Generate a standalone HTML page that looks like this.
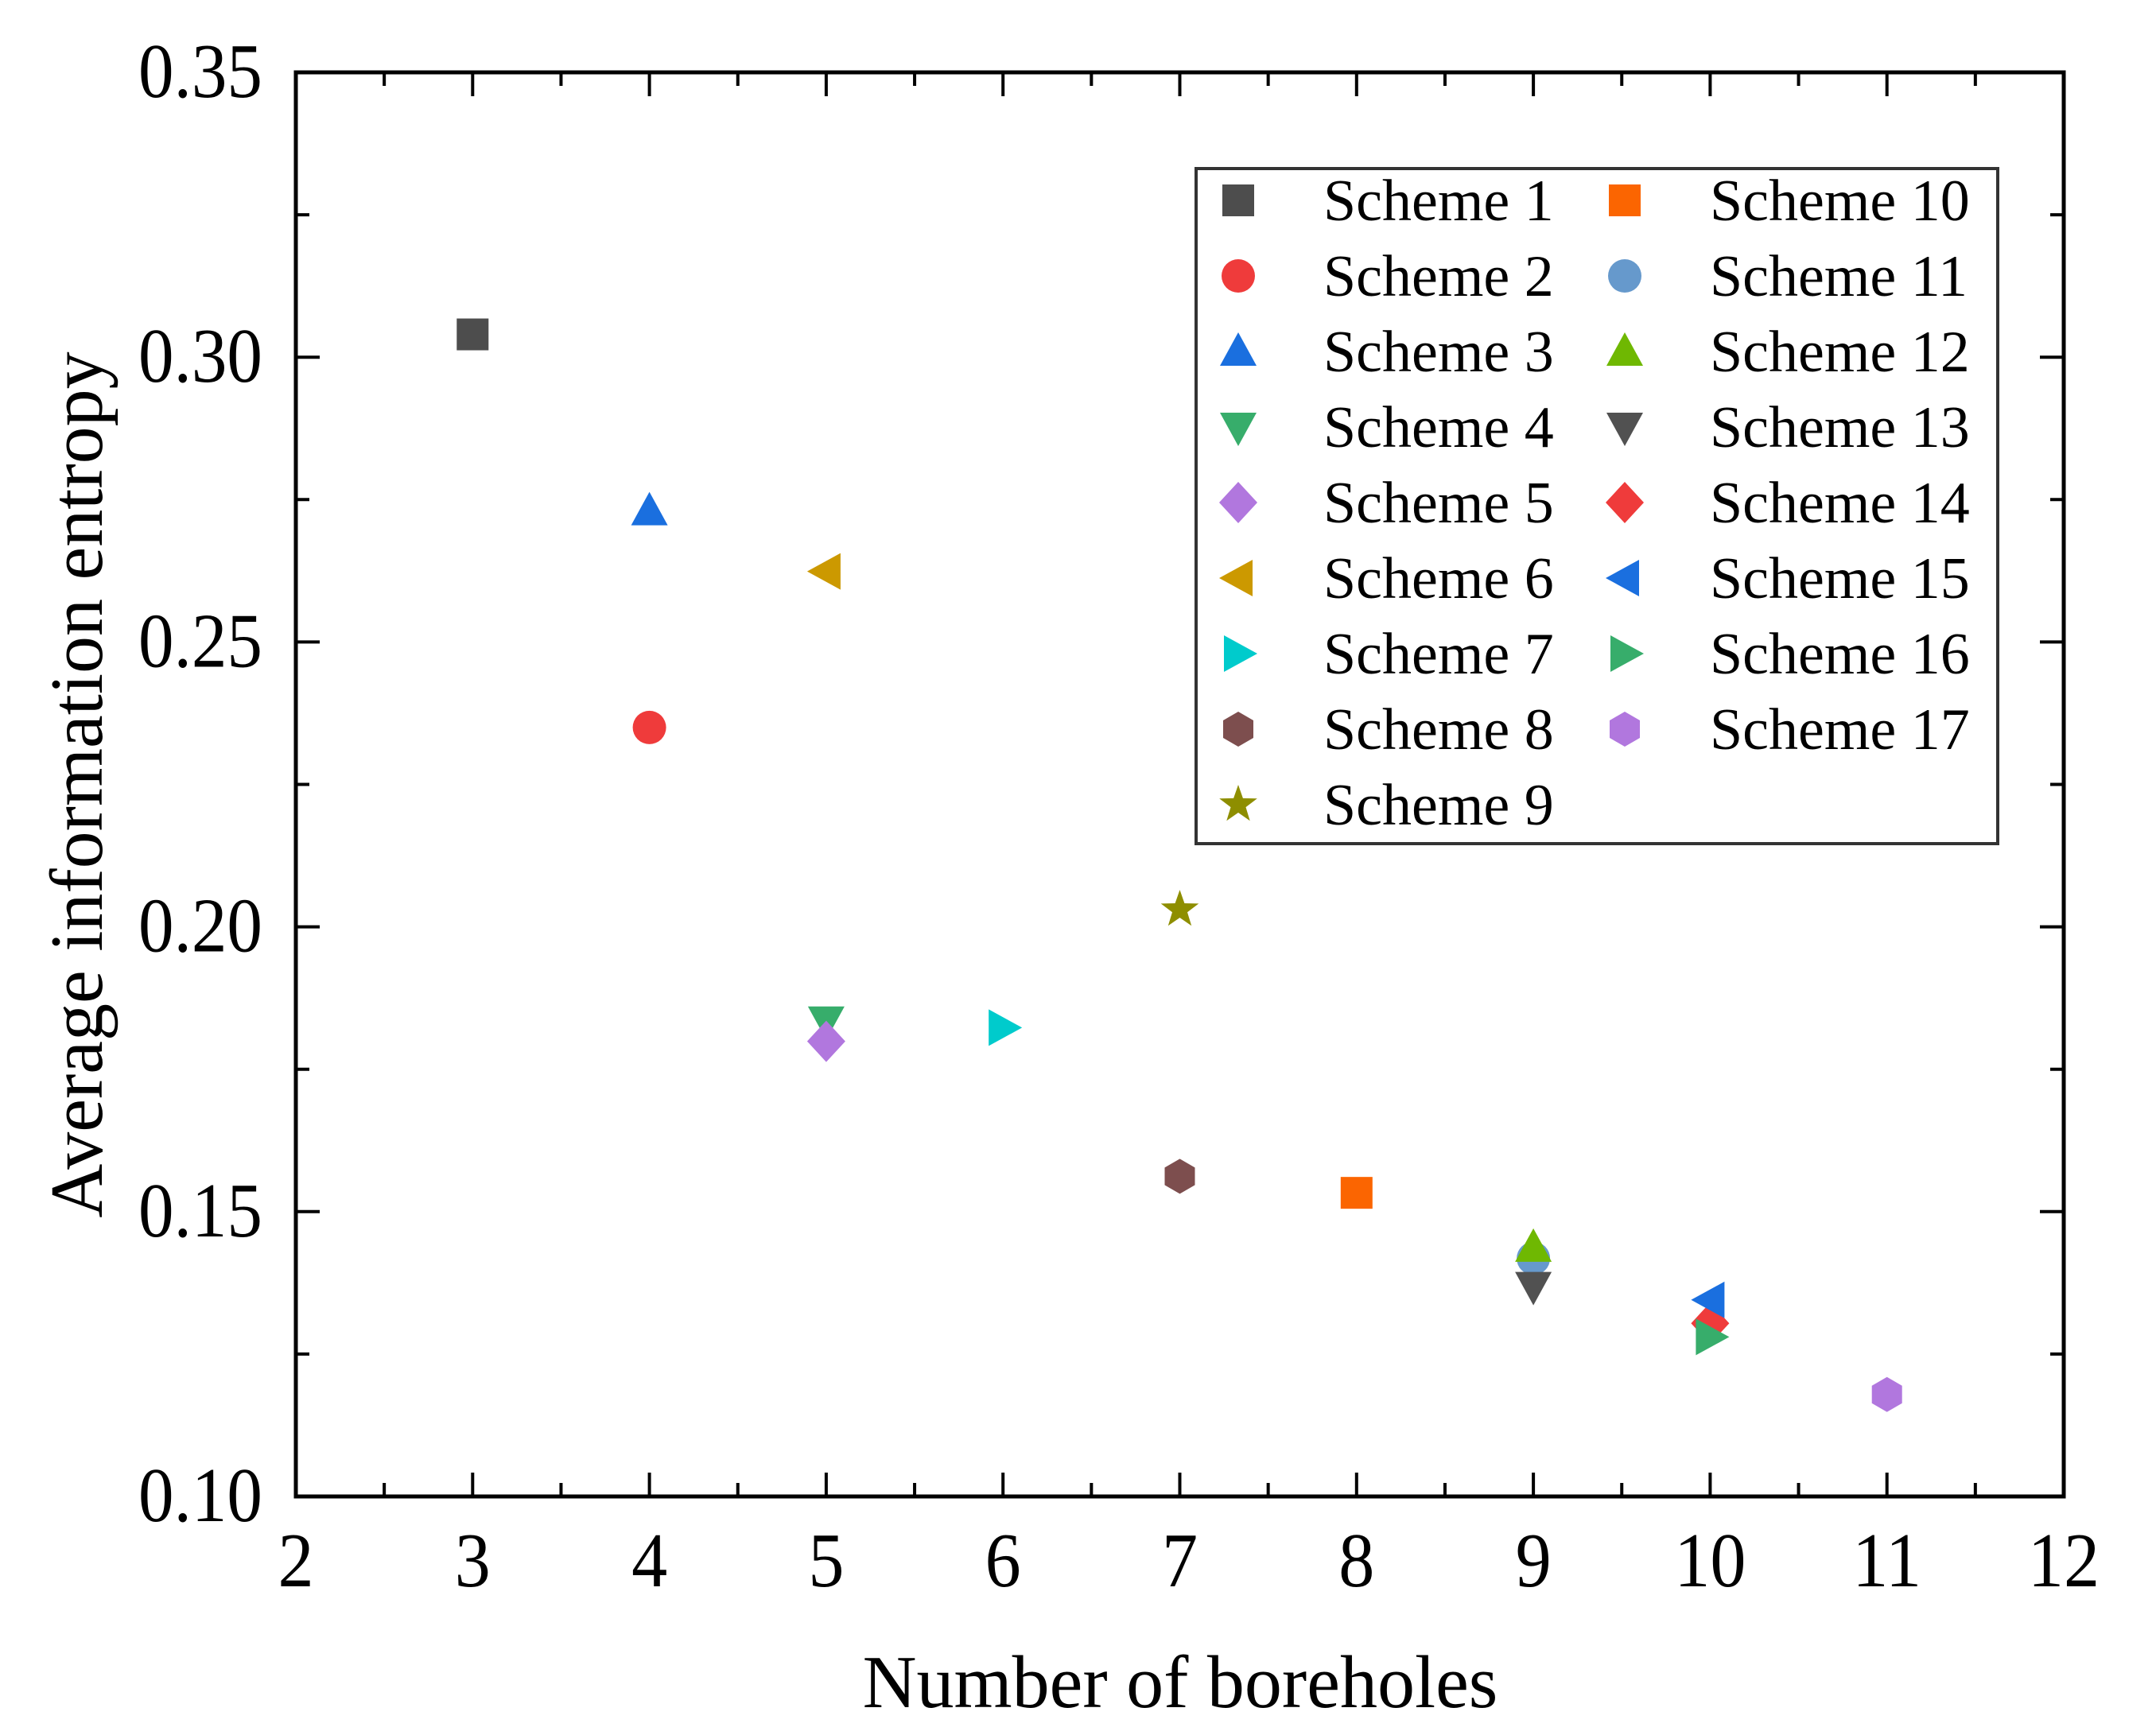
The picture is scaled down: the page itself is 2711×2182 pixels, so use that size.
<!DOCTYPE html>
<html><head><meta charset="utf-8"><style>
html,body{margin:0;padding:0;background:#fff}
svg{display:block}
text{font-family:"Liberation Serif","Times New Roman",serif;fill:#000}
</style></head>
<body>
<svg id="chart" width="2711" height="2182" viewBox="0 0 2711 2182" xmlns="http://www.w3.org/2000/svg">
<rect x="0" y="0" width="2711" height="2182" fill="#fff"/>
<g id="marks"></g>
<g id="axes"></g>
<g id="legend"></g>
<text x="1484" y="2147" font-size="94" text-anchor="middle">Number of boreholes</text>
<text transform="translate(128,987) rotate(-90)" font-size="94" text-anchor="middle">Average information entropy</text>
</svg>
<script>
const schemeNames = ["Scheme 1","Scheme 2","Scheme 3","Scheme 4","Scheme 5","Scheme 6","Scheme 7","Scheme 8","Scheme 9","Scheme 10","Scheme 11","Scheme 12","Scheme 13","Scheme 14","Scheme 15","Scheme 16","Scheme 17"];
const boreholes = [3,4,4,5,5,5,6,7,7,8,9,9,9,10,10,10,11];
const entropy = [0.304,0.235,0.273,0.1835,0.1799,0.2624,0.1823,0.1562,0.203,0.1533,0.1418,0.1437,0.1369,0.1304,0.1345,0.128,0.1179];
const markerShapes = ["square","circle","up","down","diamond","left","right","hex","star","square","circle","up","down","diamond","left","right","hex"];
const markerColors = ["#4d4d4d","#ef3b3b","#1a6fdf","#37ad6b","#b177de","#cc9900","#00cbcc","#7d4e4e","#8e8e00","#fb6501","#6699cc","#6fb802","#515151","#ef3b3b","#1a6fdf","#37ad6b","#b177de"];
const xTicks = [2,3,4,5,6,7,8,9,10,11,12];
const xTickLabels = ["2","3","4","5","6","7","8","9","10","11","12"];
const yTicks = [0.10,0.15,0.20,0.25,0.30,0.35];
const yTickLabels = ["0.10","0.15","0.20","0.25","0.30","0.35"];

const NS="http://www.w3.org/2000/svg";
const L=372,R=2595,T=91,B=1882;
const xMin=2,xMax=12,yMin=0.10,yMax=0.35;
function xs(v){return L+(v-xMin)/(xMax-xMin)*(R-L);}
function ys(v){return B-(v-yMin)/(yMax-yMin)*(B-T);}
function mk(tag,attrs,parent){const e=document.createElementNS(NS,tag);for(const k in attrs)e.setAttribute(k,attrs[k]);parent.appendChild(e);return e;}

function marker(shape,cx,cy,color,parent){
  const s=20;let e;
  if(shape==="square"){e=mk("rect",{x:cx-s,y:cy-s,width:2*s,height:2*s,fill:color},parent);}
  else if(shape==="circle"){e=mk("circle",{cx:cx,cy:cy,r:s+1,fill:color},parent);}
  else {
    let pts;
    if(shape==="up")pts=[[0,-24],[23,18],[-23,18]];
    else if(shape==="down")pts=[[0,24],[23,-18],[-23,-18]];
    else if(shape==="left")pts=[[-24,0],[18,-23],[18,23]];
    else if(shape==="right")pts=[[24,0],[-18,-23],[-18,23]];
    else if(shape==="diamond")pts=[[0,-26],[24,0],[0,26],[-24,0]];
    else if(shape==="hex")pts=[[0,-22],[19,-11],[19,11],[0,22],[-19,11],[-19,-11]];
    else {pts=[];for(let i=0;i<10;i++){const a=-Math.PI/2+i*Math.PI/5;const r=i%2?10:25;pts.push([r*Math.cos(a),r*Math.sin(a)]);}}
    e=mk("polygon",{points:pts.map(p=>(cx+p[0]).toFixed(1)+","+(cy+p[1]).toFixed(1)).join(" "),fill:color},parent);
  }
  return e;
}

const marks=document.getElementById("marks");
for(let i=0;i<entropy.length;i++){
  const e=marker(markerShapes[i],xs(boreholes[i]),ys(entropy[i]),markerColors[i],marks);
  
  
}

const axes=document.getElementById("axes");
const frame=mk("rect",{x:L,y:T,width:R-L,height:B-T,fill:"none",stroke:"#000","stroke-width":5},axes);


const ML=30,mL=17;
for(let i=0;i<xTicks.length;i++){
  const x=xs(xTicks[i]);
  mk("line",{x1:x,y1:B,x2:x,y2:B-ML,stroke:"#000","stroke-width":4},axes);
  mk("line",{x1:x,y1:T,x2:x,y2:T+ML,stroke:"#000","stroke-width":4},axes);
  if(i<xTicks.length-1){const xm=xs((xTicks[i]+xTicks[i+1])/2);
    mk("line",{x1:xm,y1:B,x2:xm,y2:B-mL,stroke:"#000","stroke-width":4},axes);
    mk("line",{x1:xm,y1:T,x2:xm,y2:T+mL,stroke:"#000","stroke-width":4},axes);}
  const t=mk("text",{transform:"translate("+x+",1995) scale(0.92,1)","font-size":98,"text-anchor":"middle"},axes);
  t.textContent=xTickLabels[i];
  
  
}
for(let i=0;i<yTicks.length;i++){
  const y=ys(yTicks[i]);
  mk("line",{x1:L,y1:y,x2:L+ML,y2:y,stroke:"#000","stroke-width":4},axes);
  mk("line",{x1:R,y1:y,x2:R-ML,y2:y,stroke:"#000","stroke-width":4},axes);
  if(i<yTicks.length-1){const ym=ys((yTicks[i]+yTicks[i+1])/2);
    mk("line",{x1:L,y1:ym,x2:L+mL,y2:ym,stroke:"#000","stroke-width":4},axes);
    mk("line",{x1:R,y1:ym,x2:R-mL,y2:ym,stroke:"#000","stroke-width":4},axes);}
  const t=mk("text",{x:174,y:y+31,"font-size":98,textLength:156,lengthAdjust:"spacingAndGlyphs"},axes);
  t.textContent=yTickLabels[i];
  
  
}

const legend=document.getElementById("legend");
const box=mk("rect",{x:1504,y:212,width:1008,height:849,fill:"#fff",stroke:"#333","stroke-width":4},legend);


for(let i=0;i<schemeNames.length;i++){
  const col=i<9?0:1,row=i<9?i:i-9;
  const cy=252+row*95;
  const mx=col?2043:1557, tx=col?2150:1664;
  const g=mk("g",{},legend);
  
  
  marker(markerShapes[i],mx,cy,markerColors[i],g);
  const t=mk("text",{x:tx,y:cy+25,"font-size":74},g);
  t.textContent=schemeNames[i];
}
</script>
</body></html>
